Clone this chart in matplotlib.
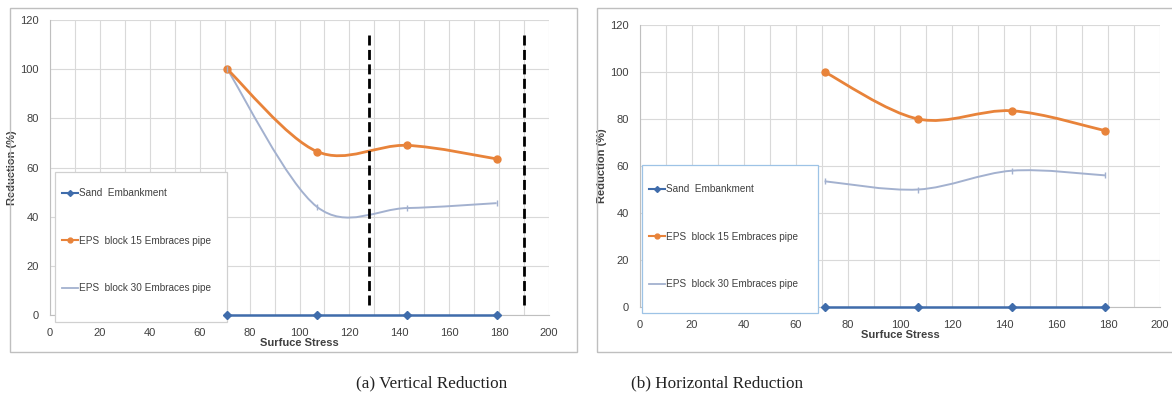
import matplotlib
matplotlib.use("Agg")
import matplotlib.pyplot as plt
from matplotlib.path import Path
from matplotlib.patches import PathPatch, Rectangle
from matplotlib.lines import Line2D
from matplotlib.ticker import MultipleLocator

plt.rcParams["font.family"] = ["Liberation Sans", "DejaVu Sans"]

# data
stress = [71, 107, 143, 179]
sand = [0, 0, 0, 0]
vert_eps15 = [100, 66.5, 69, 63.5]
vert_eps30 = [100, 44, 43.5, 45.5]
hor_eps15 = [100, 80, 83.5, 75]
hor_eps30 = [53.5, 50, 58, 56]
dash_x = [128, 190]

labels = ["Sand  Embankment", "EPS  block 15 Embraces pipe", "EPS  block 30 Embraces pipe"]
C_SAND = "#3F6CAB"
C_15 = "#E8833A"
C_30 = "#A3B1CF"
GRID = "#D9D9D9"
TXT = "#404040"


def smooth_path(xs, ys):
    # excel-like smoothed line: cubic bezier through the points
    n = len(xs)
    verts = [(xs[0], ys[0])]
    codes = [Path.MOVETO]
    for i in range(n - 1):
        xp, yp = (xs[i - 1], ys[i - 1]) if i > 0 else (xs[i], ys[i])
        xn, yn = (xs[i + 2], ys[i + 2]) if i + 2 < n else (xs[i + 1], ys[i + 1])
        c1 = (xs[i] + (xs[i + 1] - xp) / 6, ys[i] + (ys[i + 1] - yp) / 6)
        c2 = (xs[i + 1] - (xn - xs[i]) / 6, ys[i + 1] - (yn - ys[i]) / 6)
        verts += [c1, c2, (xs[i + 1], ys[i + 1])]
        codes += [Path.CURVE4] * 3
    return Path(verts, codes)


def setup(ax):
    ax.set_xlim(0, 200)
    ax.set_ylim(0, 120)
    ax.xaxis.set_major_locator(MultipleLocator(20))
    ax.xaxis.set_minor_locator(MultipleLocator(10))
    ax.yaxis.set_major_locator(MultipleLocator(20))
    ax.grid(which="both", axis="x", color=GRID, lw=0.8)
    ax.grid(which="major", axis="y", color=GRID, lw=0.8)
    ax.set_axisbelow(True)
    for s in ["top", "right"]:
        ax.spines[s].set_visible(False)
    for s in ["left", "bottom"]:
        ax.spines[s].set_color("#BFBFBF")
    ax.tick_params(which="both", length=0, labelsize=8, colors=TXT)
    ax.tick_params(axis="x", pad=9)
    ax.tick_params(axis="y", pad=8)
    ax.set_xlabel("Surfuce Stress", fontsize=8, fontweight="bold", color=TXT, labelpad=0)
    ax.set_ylabel("Reduction (%)", fontsize=8, fontweight="bold", color=TXT, labelpad=2)


def draw_series(ax, eps15, eps30):
    ax.add_patch(PathPatch(smooth_path(stress, eps30), fill=False, ec=C_30, lw=1.4, zorder=3))
    ax.add_patch(PathPatch(smooth_path(stress, eps15), fill=False, ec=C_15, lw=2.0, zorder=4))
    ax.plot(stress, eps15, ls="none", marker="o", ms=5, color=C_15, zorder=5)
    ax.plot(stress, eps30, ls="none", marker="|", ms=5, color=C_30, zorder=5)
    ax.plot(stress, sand, color=C_SAND, lw=1.8, marker="D", ms=4, zorder=10, clip_on=False)


def add_legend(ax, edge, box, anchor):
    # white box drawn separately so its padding can match the reference
    x0, y0, x1, y1 = box
    ax.add_patch(Rectangle((x0, y0), x1 - x0, y1 - y0, transform=ax.transAxes,
                           fc="white", ec=edge, lw=0.9, zorder=8, clip_on=False))
    handles = [
        Line2D([], [], color=C_SAND, lw=1.5, marker="D", ms=3),
        Line2D([], [], color=C_15, lw=1.5, marker="o", ms=3.5),
        Line2D([], [], color=C_30, lw=1.3),
    ]
    leg = ax.legend(handles, labels, loc="upper left", bbox_to_anchor=anchor,
                    fontsize=7.2, labelspacing=3.75, handlelength=1.6, handletextpad=0.15,
                    borderpad=0, borderaxespad=0, frameon=False)
    leg.set_zorder(9)
    for t in leg.get_texts():
        t.set_color(TXT)
    return leg


fig = plt.figure(figsize=(11.72, 3.98), dpi=100)

# panel frames
fig.patches.append(Rectangle((10 / 1172, 1 - 352 / 398), 567 / 1172, 344 / 398,
                             transform=fig.transFigure, fill=False, ec="#BFBFBF", lw=1))
fig.patches.append(Rectangle((597 / 1172, 1 - 352 / 398), 580 / 1172, 344 / 398,
                             transform=fig.transFigure, fill=False, ec="#BFBFBF", lw=1))

# (a) vertical
ax1 = fig.add_axes([50 / 1172, 1 - 315 / 398, 499 / 1172, 295 / 398])
setup(ax1)
draw_series(ax1, vert_eps15, vert_eps30)
for x in dash_x:
    ax1.vlines(x, 4, 114, colors="black", lw=2.0, linestyles=(0, (3.6, 1.6)), zorder=7)
add_legend(ax1, "#D0D0D0", (0.01, -0.024, 0.355, 0.485), (0.024, 0.43))

# (b) horizontal
ax2 = fig.add_axes([640 / 1172, 1 - 307 / 398, 520 / 1172, 282 / 398])
setup(ax2)
draw_series(ax2, hor_eps15, hor_eps30)
add_legend(ax2, "#9DC3E6", (0.004, -0.021, 0.342, 0.5035), (0.017, 0.436))

fig.text(432 / 1172, 1 - 383 / 398, "(a) Vertical Reduction", ha="center", va="center",
         family="Liberation Serif", fontsize=12.3, color="#222222")
fig.text(717 / 1172, 1 - 383 / 398, "(b) Horizontal Reduction", ha="center", va="center",
         family="Liberation Serif", fontsize=12.3, color="#222222")

fig.savefig("out.png", dpi=100)
